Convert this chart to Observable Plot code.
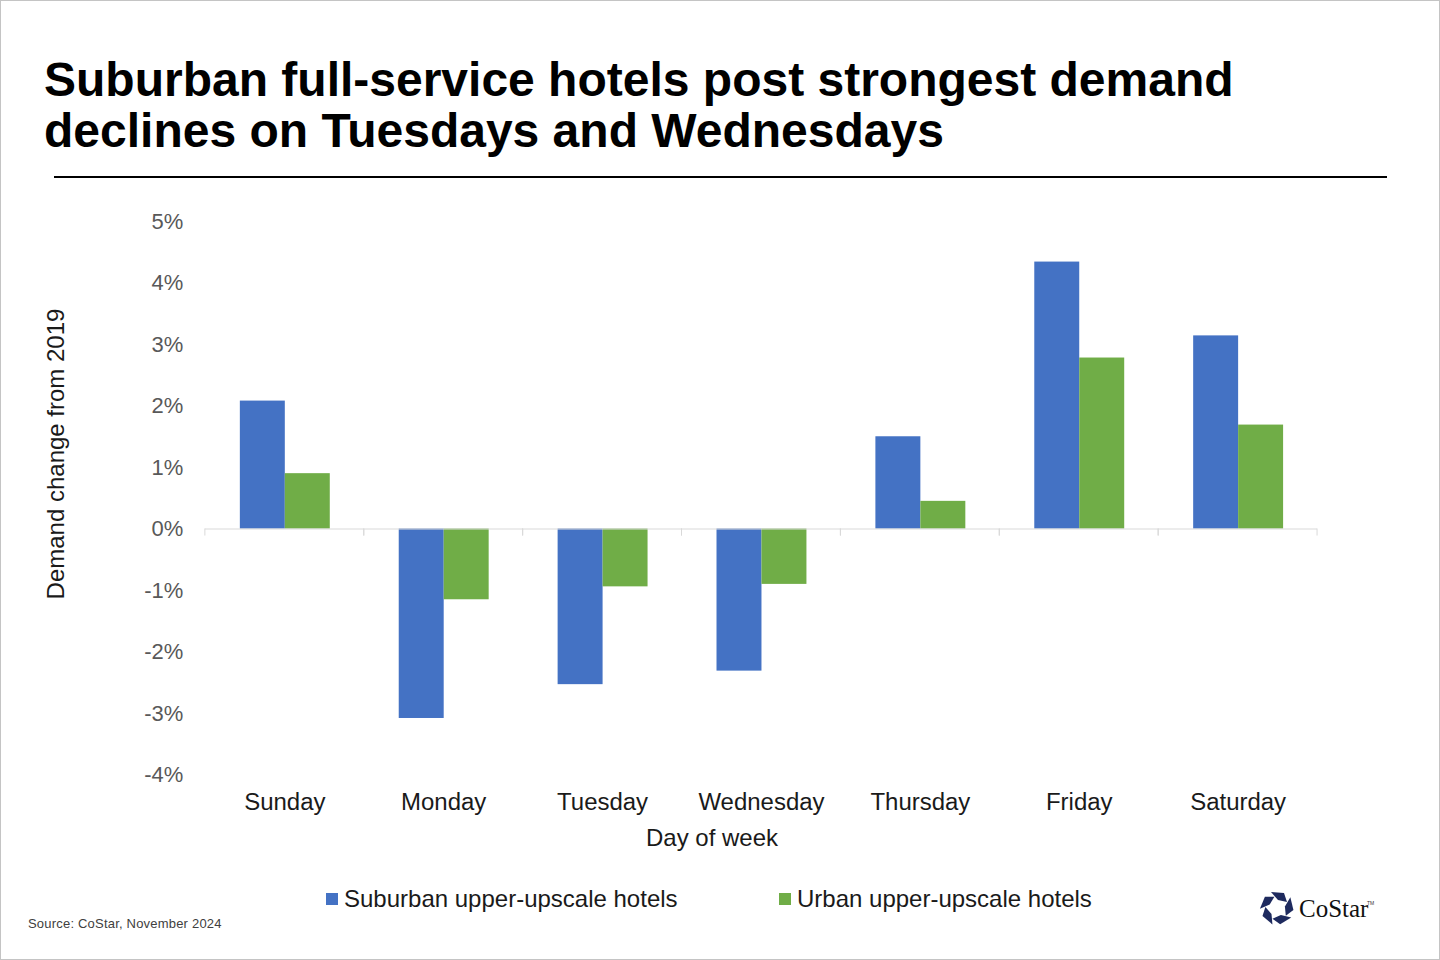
<!DOCTYPE html>
<html>
<head>
<meta charset="utf-8">
<script src="https://cdn.jsdelivr.net/npm/d3@7"></script>
<script src="https://cdn.jsdelivr.net/npm/@observablehq/plot@0.6"></script>
<style>
  html, body { margin: 0; padding: 0; background: #fff; }
  #wrap { position: relative; width: 1440px; height: 960px; box-sizing: border-box; border: 1px solid #c4c4c4; overflow: hidden; font-family: "Liberation Sans", Arial, sans-serif; }
  #title { position: absolute; left: 43px; top: 53px; font-size: 48px; line-height: 51px; font-weight: bold; color: #000; margin: 0; }
  #rule { position: absolute; left: 53px; top: 175px; width: 1333px; height: 2px; background: #000; }
  #chart { position: absolute; left: -1px; top: 179px; }
  #ytitle { position: absolute; left: 55px; top: 453px; transform: translate(-50%, -50%) rotate(-90deg); font-size: 24px; color: #1a1a1a; white-space: nowrap; }
  #xtitle { position: absolute; left: 711px; top: 837px; transform: translate(-50%, -50%); font-size: 24px; color: #1a1a1a; white-space: nowrap; }
  .leg { position: absolute; top: 898px; transform: translateY(-50%); font-size: 24px; color: #1a1a1a; white-space: nowrap; display: flex; align-items: center; }
  .leg .sw { width: 12px; height: 12px; margin-right: 6px; display: inline-block; }
  #source { position: absolute; left: 27px; top: 915px; font-size: 13px; color: #404040; letter-spacing: 0.2px; }
  #logo { position: absolute; left: 1254px; top: 885px; }
</style>
</head>
<body>
<div id="wrap">
  <div id="title">Suburban full-service hotels post strongest demand<br>declines on Tuesdays and Wednesdays</div>
  <div id="rule"></div>
  <div id="chart"></div>
  <div id="ytitle">Demand change from 2019</div>
  <div id="xtitle">Day of week</div>
  <div id="legend"></div>
  <div id="source">Source: CoStar, November 2024</div>
  <svg id="logo" width="130" height="44" viewBox="0 0 130 44">
    <g id="star" transform="translate(22,22)"></g>
    <text x="44" y="31" font-family="Liberation Serif, 'DejaVu Serif', serif" font-size="25" fill="#111">CoStar</text>
    <text x="112" y="19" font-family="Liberation Sans, Arial, sans-serif" font-size="5" fill="#333">TM</text>
  </svg>
</div>
<script>
// ---- data ----
const days = ["Sunday", "Monday", "Tuesday", "Wednesday", "Thursday", "Friday", "Saturday"];
const seriesNames = ["Suburban upper-upscale hotels", "Urban upper-upscale hotels"];
const suburban = [2.08, -3.08, -2.53, -2.31, 1.50, 4.34, 3.14];
const urban = [0.90, -1.15, -0.94, -0.90, 0.45, 2.78, 1.69];
const yTicks = [5, 4, 3, 2, 1, 0, -1, -2, -3, -4];
const colors = ["#4472c4", "#70ad47"];

const rows = [];
days.forEach((d, i) => {
  rows.push({day: d, series: seriesNames[0], value: suburban[i] / 100});
  rows.push({day: d, series: seriesNames[1], value: urban[i] / 100});
});

// category boundary tick marks on the zero line, drawn per facet
function boundaryTicks(index, scales, values, dims) {
  const y0 = scales.y(0);
  const [r0, r1] = scales.x.range();
  const g = d3.create("svg:g");
  for (const x of [r0, r1]) {
    g.append("line")
      .attr("x1", x).attr("x2", x)
      .attr("y1", y0).attr("y2", y0 + 7)
      .attr("stroke", "#d9d9d9").attr("stroke-width", 1);
  }
  return g.node();
}

const chart = Plot.plot({
  width: 1440,
  height: 680,
  marginLeft: 202,
  marginRight: 119,
  marginTop: 41,
  marginBottom: 85,
  style: {fontFamily: "'Liberation Sans', Arial, sans-serif", fontSize: "22px", background: "transparent", overflow: "visible"},
  fx: {domain: days, padding: 0, label: null},
  x: {domain: seriesNames, paddingInner: 0, paddingOuter: 0.75, axis: null},
  y: {domain: [-0.04, 0.05], label: null},
  color: {domain: seriesNames, range: colors},
  marks: [
    Plot.axisY(yTicks.map(t => t / 100), {
      tickSize: 0, tickPadding: 22, fontSize: 22, fill: "#595959",
      tickFormat: d => `${Math.round(d * 100)}%`, label: null
    }),
    Plot.axisFx({anchor: "bottom", tickSize: 0, tickPadding: 18, fontSize: 24, fill: "#1a1a1a", label: null}),
    Plot.barY(rows, {fx: "day", x: "series", y: "value", fill: "series"}),
    Plot.ruleY([0], {stroke: "#d9d9d9", strokeWidth: 1}),
    boundaryTicks
  ]
});
document.getElementById("chart").appendChild(chart);

// legend
const legend = document.getElementById("legend");
const legX = [325, 778];
seriesNames.forEach((s, i) => {
  const el = document.createElement("div");
  el.className = "leg";
  el.style.left = legX[i] + "px";
  el.innerHTML = `<span class="sw" style="background:${colors[i]}"></span><span>${s}</span>`;
  legend.appendChild(el);
});

// logo icon (five rotated pieces)
const star = d3.select("#star");
for (let k = 0; k < 5; k++) {
  star.append("polygon")
    .attr("points", "-6,-16 7,-15 10,-6 1,-8")
    .attr("fill", "#1e2a5e")
    .attr("transform", `rotate(${k * 72})`);
}
</script>
</body>
</html>
